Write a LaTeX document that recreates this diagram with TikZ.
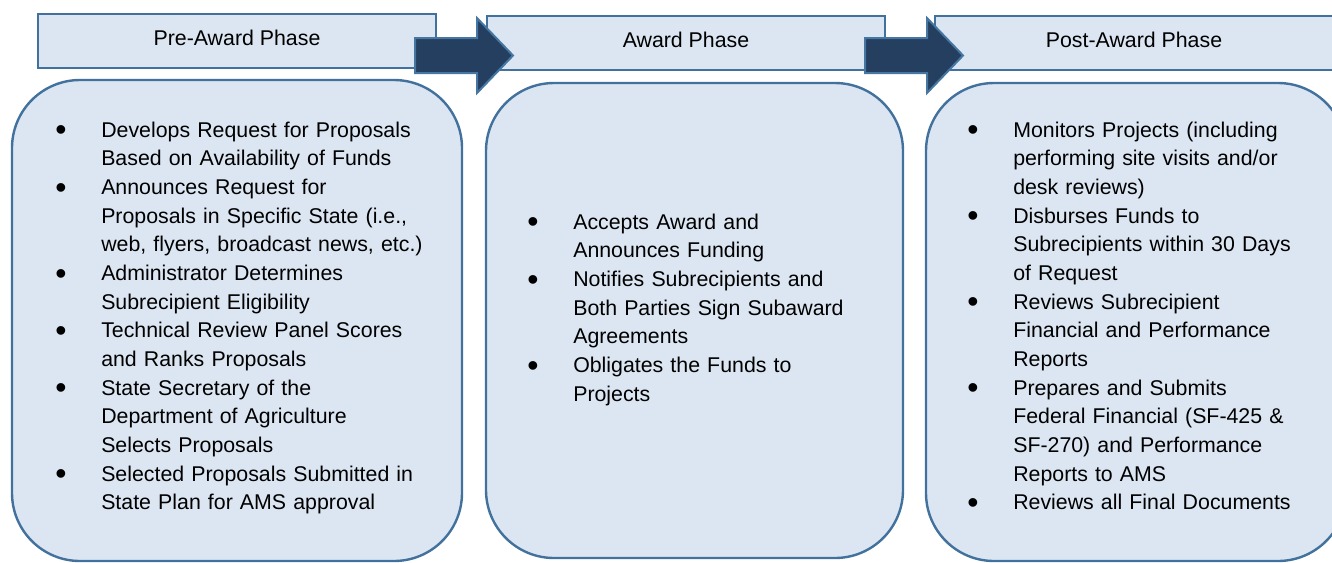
\documentclass[tikz,border=0pt]{standalone}
\usepackage{fontspec}
\usepackage{graphicx}
\setmainfont{Liberation Sans}
\definecolor{boxfill}{RGB}{220,230,242}
\definecolor{boxline}{RGB}{65,113,156}
\definecolor{arrowfill}{RGB}{36,63,96}
\definecolor{arrowline}{RGB}{70,118,162}
\newcommand{\bul}{\hangindent=34.5pt\hangafter=1\noindent\makebox[34.5pt][l]{\raisebox{-2.9pt}{\scalebox{1.5}{\textbullet}}}}
\newcommand{\nl}{\hfil\break}
\begin{document}
\begin{tikzpicture}[x=0.75pt,y=-0.75pt,
  header/.style={draw=boxline, line width=1.5pt, fill=boxfill, minimum width=298.5pt, minimum height=40.5pt, inner sep=0pt, outer sep=0pt, text height=6pt, text depth=0pt, font=\fontsize{16}{21.5}\selectfont},
  roundbox/.style={draw=boxline, line width=1.8pt, fill=boxfill, rounded corners=51pt, inner sep=0pt, outer sep=0pt},
  itemtext/.style={anchor=base west, inner sep=0pt, text width=300pt, align=left, font=\fontsize{16}{21.5}\selectfont},
  phasearrow/.style={draw=arrowline, line width=1.5pt, fill=arrowfill, line join=miter}]
\useasboundingbox (0,0) rectangle (1332,562);
\clip (0,0) rectangle (1332,562);

% headers
\node[header] (h1) at (237,41) {Pre-Award Phase};
\node[header] (h2) at (686,43) {Award Phase};
\node[header] (h3) at (1134,43) {Post-Award Phase};

% rounded boxes
\node[roundbox, minimum width=337.5pt, minimum height=360.75pt] (b1) at (237,320.5) {};
\node[roundbox, minimum width=312.75pt, minimum height=356.25pt] (b2) at (694.5,320.5) {};
\node[roundbox, minimum width=315pt, minimum height=358.5pt] (b3) at (1136,322) {};

% lists
\node[itemtext] (t1) at (55,137) {\bul Develops Request for Proposals\nl Based on Availability of Funds\par
\bul Announces Request for\nl Proposals in Specific State (i.e.,\nl web, flyers, broadcast news, etc.)\par
\bul Administrator Determines\nl Subrecipient Eligibility\par
\bul Technical Review Panel Scores\nl and Ranks Proposals\par
\bul State Secretary of the\nl Department of Agriculture\nl Selects Proposals\par
\bul Selected Proposals Submitted in\nl State Plan for AMS approval\par};

\node[itemtext] (t2) at (527,229) {\bul Accepts Award and\nl Announces Funding\par
\bul Notifies Subrecipients and\nl Both Parties Sign Subaward\nl Agreements\par
\bul Obligates the Funds to\nl Projects\par};

\node[itemtext] (t3) at (967,137) {\bul Monitors Projects (including\nl performing site visits and/or\nl desk reviews)\par
\bul Disburses Funds to\nl Subrecipients within 30 Days\nl of Request\par
\bul Reviews Subrecipient\nl Financial and Performance\nl Reports\par
\bul Prepares and Submits\nl Federal Financial (SF-425 \&\nl SF-270) and Performance\nl Reports to AMS\par
\bul Reviews all Final Documents\par};

% phase arrows
\draw[phasearrow] (415,38) -- (477,38) -- (477,18) -- (513,55.5) -- (477,93) -- (477,73) -- (415,73) -- cycle;
\draw[phasearrow] (865,38) -- (927,38) -- (927,18) -- (963,55.5) -- (927,93) -- (927,73) -- (865,73) -- cycle;
\end{tikzpicture}
\end{document}
